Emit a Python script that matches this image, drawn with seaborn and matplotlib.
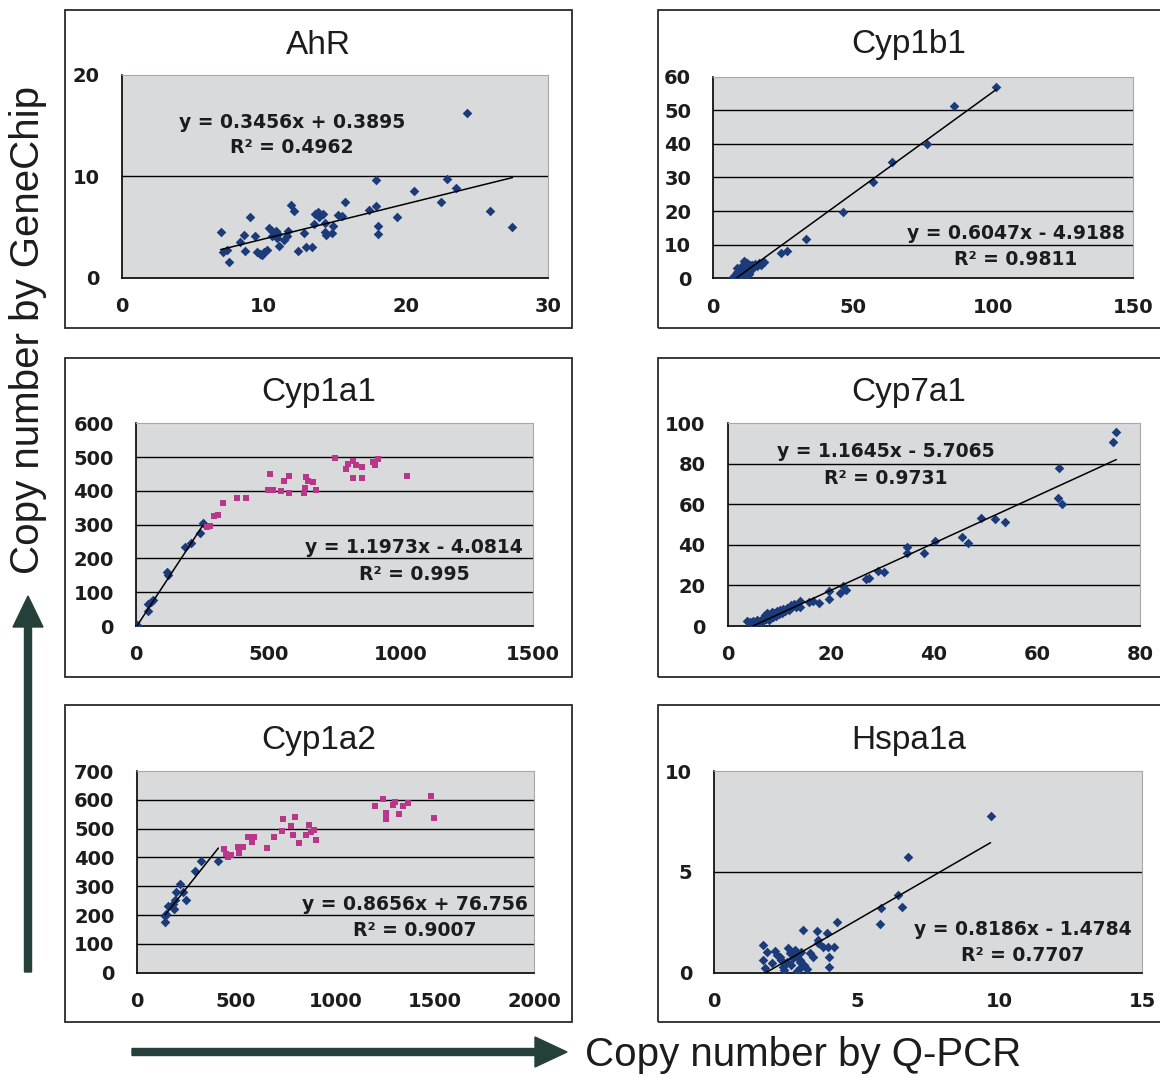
import numpy as np
import matplotlib
matplotlib.use("Agg")
import matplotlib.pyplot as plt
import seaborn as sns
from matplotlib.patches import Rectangle, FancyArrow

# ---------------- data: Q-PCR copy number (x) vs GeneChip copy number (y) ----------------
ahr_x = [6.96, 7.15, 7.4, 7.55, 8.3, 8.6, 8.7, 9.0, 9.4, 9.5, 9.7, 10.0, 10.25, 10.4, 10.55,
         10.85, 10.9, 11.1, 11.4, 11.6, 11.7, 11.9, 12.1, 12.4, 12.85, 13.0, 13.4, 13.5, 13.6,
         13.8, 14.2, 14.3, 14.3, 14.4, 14.8, 14.9, 15.2, 15.5, 15.7, 17.4, 17.9, 17.9, 18.05,
         18.05, 19.4, 20.6, 22.5, 22.9, 23.55, 24.3, 25.9, 27.5, 9.9, 10.6, 11.0, 13.9]
ahr_y = [4.52, 2.56, 2.8, 1.57, 3.5, 4.2, 2.7, 6.0, 4.1, 2.6, 2.4, 2.6, 2.8, 4.9, 4.1,
         4.6, 3.9, 3.2, 3.7, 4.1, 4.6, 7.2, 6.6, 2.7, 4.4, 3.1, 3.1, 5.3, 6.3,
         6.5, 6.3, 5.4, 4.5, 4.2, 4.4, 5.1, 6.2, 6.1, 7.5, 6.7, 9.7, 7.1, 5.1,
         4.3, 6.0, 8.6, 7.5, 9.8, 8.9, 16.3, 6.6, 5.05, 2.3, 4.6, 4.3, 6.0]

cyp1b1_x = [7.0, 7.5, 8.0, 8.2, 8.5, 8.8, 9.0, 9.2, 9.5, 9.8, 10.0, 10.2, 10.5, 10.8, 11.0,
            11.2, 11.5, 11.8, 12.0, 12.3, 12.6, 13.0, 13.4, 13.8, 14.2, 14.8, 15.5, 16.2, 17.0,
            18.0, 9.3, 10.4, 11.6, 12.8, 8.6, 10.9,
            24.0, 26.2, 33.0, 46.2, 56.9, 63.7, 76.2, 86.1, 101.0]
cyp1b1_y = [0.4, 0.8, 1.2, 0.5, 2.0, 1.5, 2.8, 0.9, 3.2, 1.8, 2.5, 3.8, 1.2, 2.9, 4.2,
            1.6, 3.5, 2.4, 4.6, 3.0, 1.9, 3.9, 2.6, 4.0, 3.3, 4.4, 3.6, 4.5, 4.1,
            4.8, 0.6, 0.7, 0.9, 1.4, 3.0, 5.0,
            7.6, 8.1, 11.6, 19.6, 28.6, 34.6, 39.9, 51.4, 57.0]

# Cyp1a1: linear range (fitted) and saturated range (not fitted)
cyp1a1_x = [5, 44, 47, 55, 65, 116, 122, 185, 206, 242, 252]
cyp1a1_y = [3, 44, 65, 72, 77, 161, 151, 235, 247, 276, 306]
cyp1a1_sat_x = [267, 279, 294, 311, 327, 380, 415, 506, 500, 518, 546, 559, 578, 579, 636, 638,
                642, 651, 670, 679, 751, 791, 801, 818, 820, 831, 852, 852, 896, 902, 914, 1022]
cyp1a1_sat_y = [292, 296, 326, 330, 363, 380, 380, 450, 403, 403, 400, 429, 445, 393, 393, 408,
                441, 429, 425, 404, 498, 466, 479, 489, 439, 476, 471, 439, 484, 476, 495, 445]

cyp7a1_x = [3.7, 4.3, 4.8, 5.0, 5.4, 5.6, 5.9, 6.2, 6.5, 6.8, 7.0, 7.2, 7.4, 7.7, 7.9, 8.1,
            8.3, 8.6, 8.8, 9.0, 9.3, 9.6, 9.9, 10.2, 10.5, 10.8, 11.2, 11.5, 11.8, 12.2, 12.5,
            12.8, 13.2, 14.0, 14.0, 15.7, 16.6, 17.8, 19.7, 19.7, 21.8, 22.4, 23.0, 26.8, 27.5,
            29.2, 30.4, 34.7, 34.7, 38.1, 40.2, 45.4, 46.7, 49.1, 51.9, 53.8, 64.0, 64.8, 64.2,
            74.8, 75.4]
cyp7a1_y = [2.6, 2.0, 1.6, 2.3, 1.8, 3.0, 2.4, 1.9, 3.2, 2.6, 4.0, 5.5, 3.4, 6.3, 4.6, 2.9,
            5.6, 7.0, 4.2, 6.2, 5.0, 7.3, 6.0, 7.8, 6.6, 8.2, 7.2, 9.0, 8.0, 10.5, 9.2,
            10.9, 9.6, 12.5, 9.2, 12.0, 12.5, 11.5, 17.4, 13.3, 16.1, 19.9, 17.8, 23.2, 23.5,
            27.3, 26.5, 39.1, 35.9, 35.9, 42.1, 44.1, 41.1, 53.5, 52.6, 51.2, 63.0, 60.0, 77.8,
            90.8, 95.6]

# Cyp1a2: linear range (fitted) and saturated range (not fitted)
cyp1a2_x = [143, 143, 148, 159, 181, 188, 193, 198, 218, 232, 248, 294, 322, 411]
cyp1a2_y = [177, 197, 204, 232, 237, 220, 252, 279, 308, 281, 251, 354, 389, 389]
cyp1a2_sat_x = [440, 450, 460, 473, 512, 517, 534, 562, 579, 591, 654, 693, 730, 735, 775, 785,
                797, 817, 852, 869, 876, 893, 903, 1200, 1242, 1255, 1255, 1292, 1300, 1322,
                1342, 1367, 1480, 1497]
cyp1a2_sat_y = [428, 412, 400, 409, 435, 417, 435, 470, 455, 470, 432, 470, 493, 535, 509, 478,
                541, 449, 478, 512, 489, 495, 460, 580, 602, 553, 532, 582, 594, 551,
                579, 590, 613, 536]

hspa1a_x = [9.68, 6.80, 6.45, 6.59, 5.83, 5.81, 4.31, 3.94, 3.59, 3.12, 3.64, 3.80, 4.19, 4.03,
            4.03, 3.47, 3.24, 3.00, 2.77, 1.72, 1.84, 1.72, 1.78, 2.13, 2.01, 2.30, 2.42, 2.59,
            2.65, 2.76, 2.82, 2.99, 2.70, 2.99, 3.34, 3.63, 3.98, 2.55, 2.88, 3.15, 2.35, 2.20,
            3.05, 2.45, 2.90]
hspa1a_y = [7.77, 5.75, 3.85, 3.27, 3.22, 2.41, 2.50, 1.98, 2.08, 2.12, 1.62, 1.29, 1.29, 0.76,
            0.26, 0.79, 0.18, 0.63, 0.96, 1.37, 1.04, 0.63, 0.22, 1.09, 0.47, 0.79, 0.30, 1.21,
            0.96, 0.71, 1.13, 0.55, 0.39, 0.22, 0.96, 1.46, 1.29, 0.55, 0.85, 0.40, 0.62, 0.88,
            1.05, 0.15, 0.10]

# linear trend lines: slope, intercept, R^2
ahr_fit = (0.3456, 0.3895, 0.4962)
cyp1b1_fit = (0.6047, -4.9188, 0.9811)
cyp1a1_fit = (1.1973, -4.0814, 0.995)
cyp7a1_fit = (1.1645, -5.7065, 0.9731)
cyp1a2_fit = (0.8656, 76.756, 0.9007)
hspa1a_fit = (0.8186, -1.4784, 0.7707)

# ---------------- styling ----------------
sns.set_style("white")
plt.rcParams["font.family"] = ["Liberation Sans", "DejaVu Sans"]

BLUE = "#1b3b7a"
PINK = "#b8378b"
PLOT_BG = "#d8dadc"
INK = "#1c1c1c"
ARROW = "#25403a"

W, H = 1160, 1078
fig = plt.figure(figsize=(W / 100, H / 100), dpi=100)
fig.patch.set_facecolor("white")


def fx(px):
    return px / W


def fy(py):
    return 1 - py / H


panels = [
    dict(title="AhR", box=(121.7, 75, 548, 278), frame=(65, 10, 572, 328), title_y=45,
         xticks=[0, 10, 20, 30], yticks=[0, 10, 20],
         data=(ahr_x, ahr_y), extra=None, fit=ahr_fit, txt=(0.40, 0.768, 0.645)),
    dict(title="Cyp1b1", box=(713.3, 76.7, 1133.3, 278.3), frame=(658, 10, 1175, 328), title_y=45,
         xticks=[0, 50, 100, 150], yticks=[0, 10, 20, 30, 40, 50, 60],
         data=(cyp1b1_x, cyp1b1_y), extra=None, fit=cyp1b1_fit, txt=(0.72, 0.22, 0.091)),
    dict(title="Cyp1a1", box=(136, 423.3, 533.3, 626), frame=(65, 358, 572, 677), title_y=392,
         xticks=[0, 500, 1000, 1500], yticks=[0, 100, 200, 300, 400, 500, 600],
         data=(cyp1a1_x, cyp1a1_y), extra=(cyp1a1_sat_x, cyp1a1_sat_y), fit=cyp1a1_fit,
         txt=(0.70, 0.385, 0.252)),
    dict(title="Cyp7a1", box=(727.7, 423.3, 1140, 626), frame=(658, 358, 1175, 677), title_y=392,
         xticks=[0, 20, 40, 60, 80], yticks=[0, 20, 40, 60, 80, 100],
         data=(cyp7a1_x, cyp7a1_y), extra=None, fit=cyp7a1_fit, txt=(0.384, 0.863, 0.73)),
    dict(title="Cyp1a2", box=(136.7, 771, 534, 972.7), frame=(65, 705, 572, 1022), title_y=741,
         xticks=[0, 500, 1000, 1500, 2000], yticks=[0, 100, 200, 300, 400, 500, 600, 700],
         data=(cyp1a2_x, cyp1a2_y), extra=(cyp1a2_sat_x, cyp1a2_sat_y), fit=cyp1a2_fit,
         txt=(0.70, 0.336, 0.207)),
    dict(title="Hspa1a", box=(714.3, 771, 1142.3, 972.7), frame=(658, 705, 1175, 1022), title_y=741,
         xticks=[0, 5, 10, 15], yticks=[0, 5, 10],
         data=(hspa1a_x, hspa1a_y), extra=None, fit=hspa1a_fit, txt=(0.721, 0.212, 0.083)),
]

for p in panels:
    # outer chart frame and title
    l, t, r, b = p["frame"]
    fig.add_artist(Rectangle((fx(l), fy(b)), (r - l) / W, (b - t) / H, fill=False,
                             edgecolor="#2a2a2a", linewidth=1.3, transform=fig.transFigure,
                             zorder=0))
    fig.text(fx((l + min(r, 1160)) / 2), fy(p["title_y"]), p["title"], ha="center", va="center",
             fontsize=24, color=INK)

    al, at, ar, ab = p["box"]
    ax = fig.add_axes([fx(al), fy(ab), (ar - al) / W, (ab - at) / H])
    ax.set_facecolor(PLOT_BG)

    xt, yt = p["xticks"], p["yticks"]
    ax.set_xlim(xt[0], xt[-1])
    ax.set_ylim(yt[0], yt[-1])

    for v in yt[1:-1]:
        ax.axhline(v, color="black", linewidth=1.0, zorder=1)

    x, y = p["data"]
    sns.scatterplot(x=x, y=y, ax=ax, marker="D", s=24, color=BLUE, linewidth=0, zorder=3)
    if p["extra"] is not None:
        ex, ey = p["extra"]
        sns.scatterplot(x=ex, y=ey, ax=ax, marker="s", s=20, color=PINK, linewidth=0, zorder=3)

    a, c, r2 = p["fit"]
    xs = np.array([min(x), max(x)])
    ax.plot(xs, a * xs + c, color="black", linewidth=1.1, zorder=4)

    sign = "+" if c >= 0 else "-"
    fx_, fy1, fy2 = p["txt"]
    ax.text(fx_, fy1, f"y = {a}x {sign} {abs(c)}", transform=ax.transAxes, ha="center",
            va="center", fontsize=13.5, fontweight="bold", family="DejaVu Sans", color=INK,
            zorder=5)
    ax.text(fx_, fy2, f"R\u00b2 = {r2}", transform=ax.transAxes, ha="center", va="center",
            fontsize=13.5, fontweight="bold", family="DejaVu Sans", color=INK, zorder=5)

    ax.set_xticks(xt, labels=[f"{v:g}" for v in xt], fontsize=14, fontweight="bold",
                  family="DejaVu Sans", color=INK)
    ax.set_yticks(yt, labels=[f"{v:g}" for v in yt], fontsize=14, fontweight="bold",
                  family="DejaVu Sans", color=INK)
    ax.tick_params(axis="x", direction="in", length=4, width=1, pad=14, colors="black",
                   labelcolor=INK)
    ax.tick_params(axis="y", length=0, pad=16, labelcolor=INK)
    ax.set_xlabel("")
    ax.set_ylabel("")
    for side in ("left", "bottom"):
        ax.spines[side].set_color("black")
        ax.spines[side].set_linewidth(1.2)
    for side in ("top", "right"):
        ax.spines[side].set_color("#a8a8a8")
        ax.spines[side].set_linewidth(0.8)

# ---------------- shared axis labels with arrows ----------------
inch = fig.dpi_scale_trans
fig.add_artist(FancyArrow(0.28, (H - 972) / 100, 0, (972 - 596) / 100, width=0.07,
                          head_width=0.30, head_length=0.31, length_includes_head=True,
                          color=ARROW, transform=inch))
fig.add_artist(FancyArrow(1.32, (H - 1052) / 100, (567 - 132) / 100, 0, width=0.07,
                          head_width=0.30, head_length=0.32, length_includes_head=True,
                          color=ARROW, transform=inch))
fig.text(fx(28), fy(330), "Copy number by GeneChip", rotation=90, ha="center", va="center",
         fontsize=29, color=INK)
fig.text(fx(585), fy(1055), "Copy number by Q-PCR", ha="left", va="center",
         fontsize=29, color=INK)

fig.savefig("out.png", dpi=100, facecolor="white")
